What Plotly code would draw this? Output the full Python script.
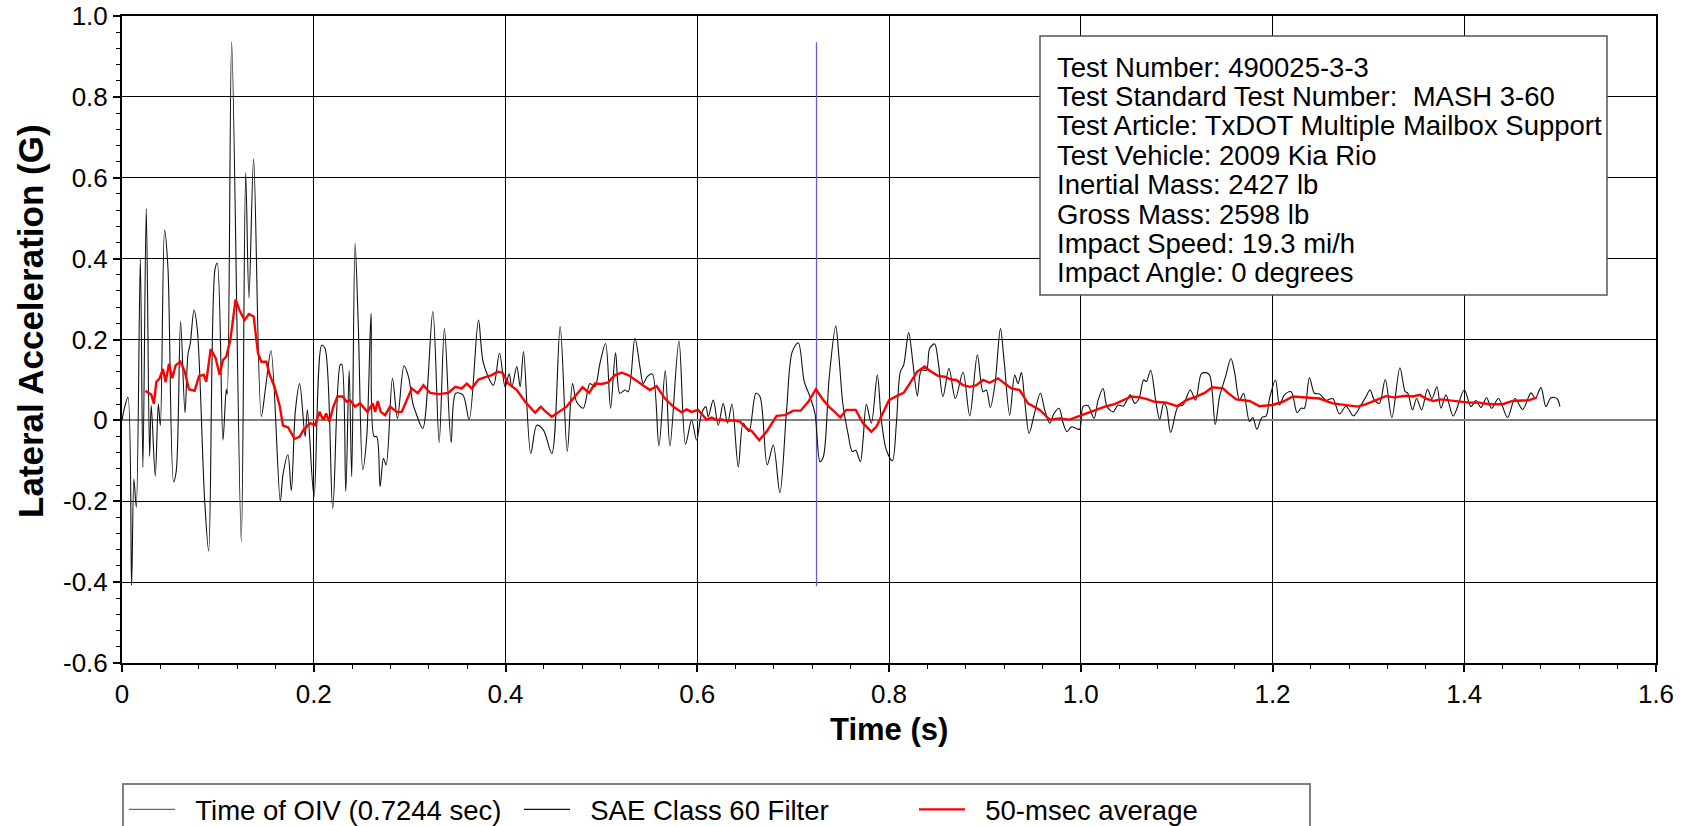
import plotly.graph_objects as go

# ---------------- data ----------------
oiv_time = 0.7244
oiv_span = [-0.41, 0.935]

sae_t = [0.000, 0.0027, 0.0062, 0.0100, 0.0124, 0.0149, 0.0191, 0.0218, 0.0253, 0.0288,
         0.0305, 0.0347, 0.0379, 0.0400, 0.0444, 0.0479, 0.0538, 0.0566, 0.0611, 0.0657,
         0.0688, 0.0712, 0.0751, 0.0785, 0.0862, 0.0904, 0.0970, 0.0994, 0.1053, 0.1088,
         0.1098, 0.1144, 0.1244, 0.1290, 0.1324, 0.1373, 0.1453, 0.1498, 0.1554, 0.1651,
         0.1679, 0.1731, 0.1766, 0.1808, 0.1853, 0.1910, 0.1934, 0.2003, 0.2083, 0.2118,
         0.2198, 0.2275, 0.2292, 0.2334, 0.2369, 0.2396, 0.2431, 0.2466, 0.2511, 0.2553,
         0.2598, 0.2629, 0.2657, 0.2692, 0.2727, 0.2755, 0.2821, 0.2873, 0.2942, 0.2988,
         0.3033, 0.3068, 0.3137, 0.3242, 0.3308, 0.3363, 0.3433, 0.3481, 0.3555, 0.3621,
         0.3718, 0.3770, 0.3874, 0.3937, 0.3996, 0.4038, 0.4066, 0.4118, 0.4153, 0.4188,
         0.4264, 0.4327, 0.4396, 0.4483, 0.4570, 0.4644, 0.4699, 0.4741, 0.4811, 0.4880,
         0.4932, 0.4985, 0.5044, 0.5096, 0.5148, 0.5193, 0.5245, 0.5280, 0.5350, 0.5402,
         0.5437, 0.5478, 0.5531, 0.5600, 0.5666, 0.5715, 0.5809, 0.5878, 0.5941, 0.5993,
         0.6045, 0.6090, 0.6115, 0.6167, 0.6219, 0.6271, 0.6316, 0.6362, 0.6428, 0.6480,
         0.6539, 0.6612, 0.6654, 0.6730, 0.6793, 0.6862, 0.6932, 0.6991, 0.7054, 0.7116,
         0.7175, 0.7228, 0.7280, 0.7315, 0.7377, 0.7444, 0.7478, 0.7520, 0.7572, 0.7617,
         0.7652, 0.7701, 0.7729, 0.7764, 0.7816, 0.7878, 0.7920, 0.7972, 0.8035, 0.8077,
         0.8118, 0.8153, 0.8205, 0.8250, 0.8296, 0.8337, 0.8390, 0.8424, 0.8476, 0.8511,
         0.8563, 0.8626, 0.8692, 0.8772, 0.8842, 0.8922, 0.8981, 0.9015, 0.9057, 0.9106,
         0.9162, 0.9200, 0.9259, 0.9311, 0.9346, 0.9381, 0.9415, 0.9461, 0.9509, 0.9579,
         0.9624, 0.9676, 0.9721, 0.9774, 0.9815, 0.9857, 0.9902, 0.9954, 0.9989, 1.0024,
         1.0076, 1.0139, 1.0181, 1.0233, 1.0274, 1.0337, 1.0389, 1.0441, 1.0517, 1.0563,
         1.0608, 1.0656, 1.0684, 1.0729, 1.0781, 1.0823, 1.0865, 1.0892, 1.0938, 1.1014,
         1.1066, 1.1142, 1.1198, 1.1257, 1.1302, 1.1344, 1.1403, 1.1448, 1.1510, 1.1566,
         1.1604, 1.1656, 1.1698, 1.1760, 1.1795, 1.1837, 1.1889, 1.1934, 1.1969, 1.2031,
         1.2073, 1.2125, 1.2194, 1.2257, 1.2299, 1.2333, 1.2385, 1.2438, 1.2490, 1.2559,
         1.2628, 1.2698, 1.2767, 1.2844, 1.2924, 1.2976, 1.3017, 1.3063, 1.3115, 1.3176,
         1.3245, 1.3329, 1.3384, 1.3409, 1.3461, 1.3503, 1.3555, 1.3617, 1.3663, 1.3715,
         1.3757, 1.3809, 1.3885, 1.4000, 1.4070, 1.4122, 1.4174, 1.4233, 1.4285, 1.4358,
         1.4452, 1.4529, 1.4609, 1.4696, 1.4741, 1.4800, 1.4852, 1.4904, 1.4967, 1.4998]

sae_g = [0.000, 0.032, 0.057, -0.408, -0.145, -0.215, 0.399, -0.116, 0.524, -0.089,
         0.037, -0.138, 0.041, -0.013, 0.471, 0.378, -0.152, -0.125, 0.245, 0.019,
         0.163, 0.190, 0.273, 0.226, -0.197, -0.323, 0.374, 0.389, -0.049, 0.077,
         0.064, 0.936, -0.300, 0.612, 0.302, 0.646, 0.010, 0.082, 0.172, -0.201,
         -0.134, -0.085, -0.174, 0.023, 0.091, -0.040, 0.026, -0.189, 0.186, 0.178,
         -0.218, 0.137, 0.139, -0.176, 0.124, -0.139, 0.438, 0.223, -0.122, -0.040,
         0.265, -0.040, -0.040, -0.164, -0.094, -0.110, 0.104, 0.005, 0.135, 0.108,
         0.042, 0.017, -0.020, 0.269, -0.055, 0.227, -0.055, 0.067, 0.063, 0.002,
         0.248, 0.141, 0.087, 0.166, 0.083, 0.115, 0.083, 0.133, 0.083, 0.170,
         -0.082, -0.012, -0.024, -0.082, 0.232, -0.077, 0.091, 0.046, 0.030, 0.091,
         0.083, 0.141, 0.190, 0.030, 0.167, 0.067, 0.075, 0.071, 0.203, 0.133,
         0.091, 0.108, 0.115, -0.063, 0.123, -0.063, 0.197, -0.059, 0.001, -0.049,
         0.017, 0.034, 0.009, 0.050, -0.012, 0.042, -0.007, 0.040, -0.115, -0.007,
         -0.028, 0.067, 0.059, -0.110, -0.061, -0.179, 0.026, 0.170, 0.192, 0.096,
         0.059, 0.017, -0.102, -0.090, 0.108, 0.233, 0.157, 0.038, -0.032, -0.077,
         -0.074, -0.102, -0.049, 0.040, -0.007, 0.112, 0.001, -0.073, -0.100, -0.007,
         0.120, 0.137, 0.217, 0.141, 0.060, 0.124, 0.124, 0.178, 0.189, 0.149,
         0.059, 0.129, 0.054, 0.119, 0.011, 0.162, 0.071, 0.075, 0.032, 0.091,
         0.227, 0.149, 0.013, 0.112, 0.091, 0.118, 0.050, -0.032, 0.009, 0.067,
         0.026, -0.007, 0.017, 0.030, -0.006, -0.028, -0.016, -0.020, -0.022, 0.034,
         0.036, 0.005, 0.050, 0.079, 0.034, 0.021, 0.038, 0.035, 0.063, 0.042,
         0.054, 0.100, 0.096, 0.124, 0.050, 0.002, 0.042, 0.034, -0.030, 0.034,
         0.038, 0.075, 0.050, 0.115, 0.118, 0.112, -0.010, 0.059, 0.108, 0.153,
         0.120, 0.050, 0.067, -0.003, 0.007, -0.022, 0.007, 0.011, 0.054, 0.100,
         0.038, 0.063, 0.071, 0.019, 0.030, 0.030, 0.106, 0.067, 0.065, 0.050,
         0.054, 0.016, 0.035, 0.011, 0.038, 0.059, 0.075, 0.050, 0.042, 0.101,
         0.007, 0.130, 0.071, 0.068, 0.026, 0.054, 0.026, 0.077, 0.054, 0.083,
         0.030, 0.063, 0.011, 0.075, 0.034, 0.049, 0.032, 0.056, 0.030, 0.054,
         0.007, 0.054, 0.027, 0.068, 0.054, 0.081, 0.034, 0.056, 0.054, 0.034]

avg_t = [0.0243, 0.0271, 0.0305, 0.0333, 0.0358, 0.0392, 0.0427, 0.0455, 0.0490, 0.0525,
         0.0559, 0.0608, 0.0653, 0.0698, 0.0757, 0.0803, 0.0851, 0.0879, 0.0925, 0.0977,
         0.1018, 0.1053, 0.1088, 0.1130, 0.1185, 0.1227, 0.1279, 0.1324, 0.1373, 0.1418,
         0.1453, 0.1505, 0.1540, 0.1592, 0.1644, 0.1679, 0.1731, 0.1801, 0.1853, 0.1892,
         0.1962, 0.2014, 0.2059, 0.2101, 0.2129, 0.2163, 0.2205, 0.2247, 0.2303, 0.2344,
         0.2379, 0.2431, 0.2483, 0.2560, 0.2616, 0.2640, 0.2668, 0.2699, 0.2744, 0.2796,
         0.2866, 0.2918, 0.2970, 0.3022, 0.3085, 0.3144, 0.3214, 0.3301, 0.3405, 0.3475,
         0.3544, 0.3596, 0.3648, 0.3718, 0.3805, 0.3857, 0.3916, 0.3968, 0.4031, 0.4118,
         0.4205, 0.4309, 0.4368, 0.4413, 0.4483, 0.4553, 0.4637, 0.4724, 0.4804, 0.4873,
         0.4932, 0.5002, 0.5071, 0.5141, 0.5211, 0.5280, 0.5350, 0.5437, 0.5506, 0.5576,
         0.5663, 0.5750, 0.5837, 0.5889, 0.5941, 0.6010, 0.6097, 0.6150, 0.6202, 0.6254,
         0.6306, 0.6376, 0.6445, 0.6515, 0.6567, 0.6647, 0.6723, 0.6828, 0.6915, 0.7002,
         0.7078, 0.7158, 0.7238, 0.7315, 0.7381, 0.7433, 0.7492, 0.7555, 0.7652, 0.7729,
         0.7816, 0.7868, 0.7937, 0.8000, 0.8077, 0.8153, 0.8216, 0.8292, 0.8372, 0.8417,
         0.8511, 0.8581, 0.8650, 0.8702, 0.8772, 0.8842, 0.8911, 0.8981, 0.9050, 0.9137,
         0.9207, 0.9276, 0.9363, 0.9450, 0.9572, 0.9676, 0.9781, 0.9885, 0.9989, 1.0059,
         1.0146, 1.0267, 1.0354, 1.0441, 1.0528, 1.0615, 1.0684, 1.0771, 1.0892, 1.1007,
         1.1101, 1.1205, 1.1292, 1.1372, 1.1483, 1.1535, 1.1622, 1.1760, 1.1865, 1.2000,
         1.2108, 1.2212, 1.2351, 1.2490, 1.2628, 1.2767, 1.2889, 1.2976, 1.3097, 1.3183,
         1.3270, 1.3339, 1.3391, 1.3461, 1.3537, 1.3600, 1.3680, 1.3757, 1.3843, 1.3948,
         1.4052, 1.4156, 1.4261, 1.4400, 1.4504, 1.4609, 1.4678, 1.4755]

avg_g = [0.073, 0.068, 0.064, 0.041, 0.095, 0.104, 0.127, 0.095, 0.140, 0.104,
         0.136, 0.145, 0.122, 0.077, 0.073, 0.109, 0.113, 0.095, 0.176, 0.154,
         0.113, 0.149, 0.158, 0.199, 0.299, 0.271, 0.248, 0.263, 0.257, 0.167,
         0.145, 0.145, 0.113, 0.082, 0.037, -0.013, -0.017, -0.046, -0.040, -0.024,
         -0.007, -0.012, 0.021, 0.001, 0.017, -0.003, 0.034, 0.059, 0.059, 0.046,
         0.050, 0.034, 0.042, 0.021, 0.042, 0.021, 0.048, 0.021, 0.013, 0.034,
         0.021, 0.021, 0.050, 0.079, 0.067, 0.087, 0.068, 0.065, 0.068, 0.083,
         0.079, 0.091, 0.079, 0.101, 0.108, 0.112, 0.120, 0.118, 0.091, 0.075,
         0.046, 0.019, 0.034, 0.023, 0.009, 0.021, 0.034, 0.059, 0.082, 0.068,
         0.091, 0.090, 0.094, 0.112, 0.118, 0.112, 0.100, 0.087, 0.075, 0.085,
         0.054, 0.034, 0.020, 0.027, 0.021, 0.026, 0.002, 0.007, 0.001, 0.002,
         -0.001, 0.000, -0.003, -0.020, -0.026, -0.049, -0.028, 0.011, 0.013, 0.024,
         0.024, 0.046, 0.077, 0.050, 0.032, 0.021, 0.007, 0.026, 0.026, -0.007,
         -0.028, -0.016, 0.017, 0.050, 0.060, 0.068, 0.091, 0.120, 0.133, 0.124,
         0.110, 0.108, 0.101, 0.100, 0.087, 0.083, 0.087, 0.100, 0.093, 0.104,
         0.091, 0.079, 0.075, 0.042, 0.026, 0.002, 0.005, 0.002, 0.011, 0.017,
         0.026, 0.035, 0.040, 0.050, 0.059, 0.057, 0.053, 0.046, 0.044, 0.035,
         0.050, 0.059, 0.068, 0.082, 0.079, 0.068, 0.052, 0.048, 0.035, 0.038,
         0.046, 0.059, 0.057, 0.054, 0.042, 0.037, 0.034, 0.040, 0.052, 0.060,
         0.057, 0.059, 0.061, 0.059, 0.063, 0.054, 0.048, 0.052, 0.050, 0.046,
         0.044, 0.044, 0.040, 0.040, 0.048, 0.049, 0.050, 0.056]

x_ticks = [0, 0.2, 0.4, 0.6, 0.8, 1.0, 1.2, 1.4, 1.6]
x_tick_labels = ["0", "0.2", "0.4", "0.6", "0.8", "1.0", "1.2", "1.4", "1.6"]
y_ticks = [-0.6, -0.4, -0.2, 0, 0.2, 0.4, 0.6, 0.8, 1.0]
y_tick_labels = ["-0.6", "-0.4", "-0.2", "0", "0.2", "0.4", "0.6", "0.8", "1.0"]

series_names = ["Time of OIV (0.7244 sec)", "SAE Class 60 Filter", "50-msec average"]

info_lines = [
    "Test Number: 490025-3-3",
    "Test Standard Test Number:  MASH 3-60",
    "Test Article: TxDOT Multiple Mailbox Support",
    "Test Vehicle: 2009 Kia Rio",
    "Inertial Mass: 2427 lb",
    "Gross Mass: 2598 lb",
    "Impact Speed: 19.3 mi/h",
    "Impact Angle: 0 degrees",
]

# ---------------- layout geometry (screen pixels) ----------------
W, H = 1686, 826
PLOT_L, PLOT_R, PLOT_T, PLOT_B = 122, 1656, 16, 663
ML, MT, MR, MB = PLOT_L, PLOT_T, W - PLOT_R, H - PLOT_B
PW = PLOT_R - PLOT_L
PH = PLOT_B - PLOT_T
XR = [0, 1.6]
YR = [-0.6, 1.0]


def sx_to_x(sx):
    return XR[0] + (sx - PLOT_L) / PW * (XR[1] - XR[0])


def sy_to_y(sy):
    return YR[1] - (sy - PLOT_T) / PH * (YR[1] - YR[0])


def sx_to_paper(sx):
    return (sx - PLOT_L) / PW


def sy_to_paper(sy):
    return (PLOT_B - sy) / PH


FONT = "Liberation Sans, Arial, sans-serif"
GAP = "\u00a0\u00a0"   # small gap between legend line sample and its label

fig = go.Figure()

fig.add_trace(go.Scatter(
    x=[oiv_time, oiv_time], y=oiv_span, mode="lines",
    name=GAP + series_names[0],
    line=dict(color="#5f5fc4", width=1.3),
))
fig.add_trace(go.Scatter(
    x=sae_t, y=sae_g, mode="lines", name=GAP + series_names[1],
    line=dict(color="#111111", width=1.1, shape="spline", smoothing=0.9),
))
fig.add_trace(go.Scatter(
    x=avg_t, y=avg_g, mode="lines", name=GAP + series_names[2],
    line=dict(color="#ff0000", width=2.4),
))

axis_common = dict(
    showline=True, linecolor="black", linewidth=2, mirror=True,
    showgrid=True, gridcolor="black", gridwidth=1.3,
    ticks="outside", ticklen=7, tickwidth=1.5, tickcolor="black",
    tickfont=dict(family=FONT, size=26, color="black"),
    ticklabeloverflow="allow",
    minor=dict(ticks="outside", ticklen=4, tickwidth=1.2, tickcolor="black",
               dtick=0.04, showgrid=False),
)

fig.update_xaxes(range=XR, tickmode="array", tickvals=x_ticks, ticktext=x_tick_labels,
                 zeroline=False, **axis_common)
fig.update_yaxes(range=YR, tickmode="array", tickvals=y_ticks, ticktext=y_tick_labels,
                 zeroline=True, zerolinecolor="#808080", zerolinewidth=2,
                 **axis_common)

# info box
box_l, box_r, box_t, box_b = 1040, 1607, 36, 295
fig.add_shape(type="rect", xref="x", yref="y",
              x0=sx_to_x(box_l), x1=sx_to_x(box_r), y0=sy_to_y(box_b), y1=sy_to_y(box_t),
              line=dict(color="#555555", width=1.5), fillcolor="white", layer="above")

annotations = []
for i, line in enumerate(info_lines):
    annotations.append(dict(
        xref="x", yref="y", x=sx_to_x(1055), y=sy_to_y(67 + 29.4 * i),
        text=line, showarrow=False, xanchor="left", yanchor="middle",
        font=dict(family=FONT, size=27.5, color="black"),
    ))

annotations.append(dict(
    xref="paper", yref="paper", x=sx_to_paper(30), y=sy_to_paper(321),
    text="<b>Lateral Acceleration (G)</b>", showarrow=False, textangle=-90,
    xanchor="center", yanchor="middle",
    font=dict(family=FONT, size=35, color="black"),
))
annotations.append(dict(
    xref="paper", yref="paper", x=0.5, y=sy_to_paper(729),
    text="<b>Time (s)</b>", showarrow=False,
    xanchor="center", yanchor="middle",
    font=dict(family=FONT, size=31, color="black"),
))

fig.update_layout(
    width=W, height=H,
    margin=dict(l=ML, r=MR, t=MT, b=MB, autoexpand=False),
    paper_bgcolor="white", plot_bgcolor="white",
    showlegend=True,
    legend=dict(
        orientation="h", x=0, xanchor="left", y=sy_to_paper(783), yanchor="top",
        bordercolor="#808080", borderwidth=2, bgcolor="white",
        font=dict(family=FONT, size=27.5, color="black"),
        itemwidth=46, entrywidth=334, entrywidthmode="pixels",
        tracegroupgap=0,
    ),
    annotations=annotations,
)

fig.write_html(
    "out.html",
    config={"displayModeBar": False},
    post_script="document.body.style.margin='0';document.body.style.overflow='hidden';",
)
